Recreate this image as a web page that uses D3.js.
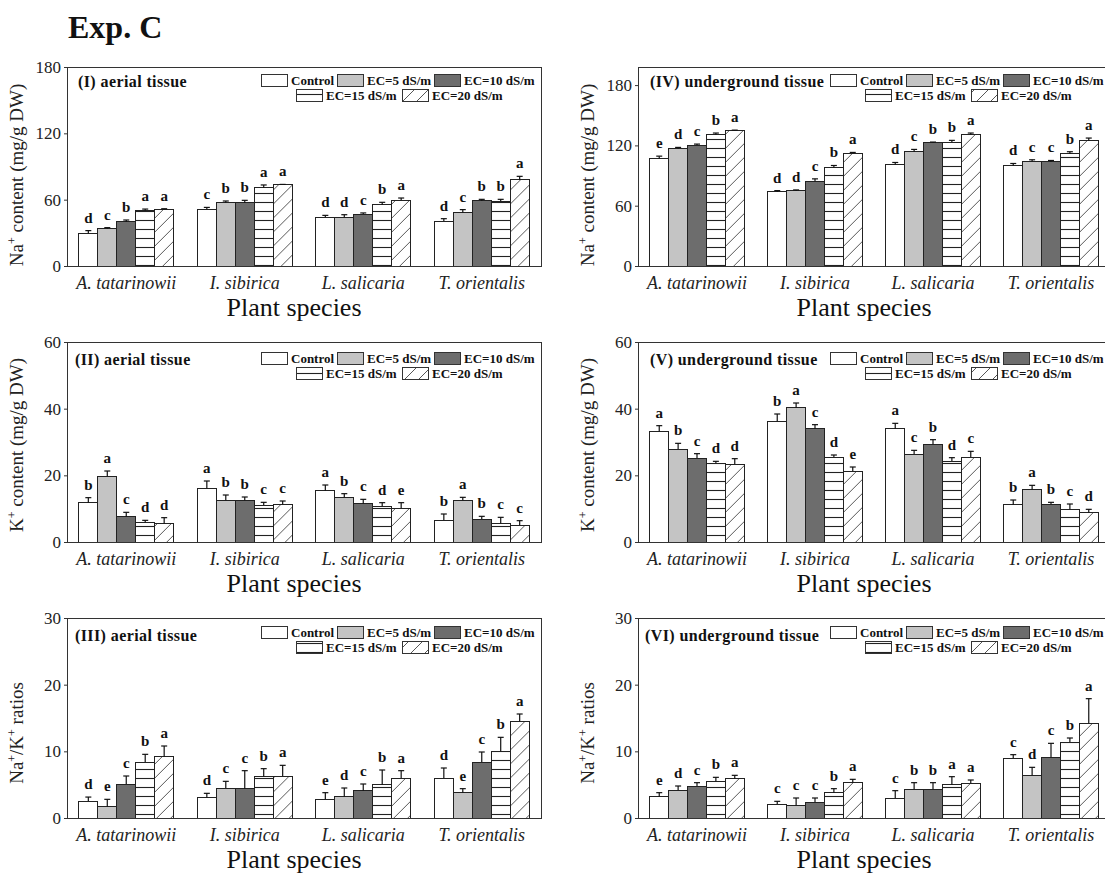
<!DOCTYPE html>
<html><head><meta charset="utf-8">
<script src="https://cdn.jsdelivr.net/npm/d3@7/dist/d3.min.js"></script>
<style>
html,body{margin:0;padding:0;background:#fff;}
svg{display:block;font-family:"Liberation Serif","Times New Roman",serif;}
</style></head>
<body>
<svg id="chart" width="1105" height="875" font-family="Liberation Serif, Times New Roman, serif"></svg>
<script>
// ---------- DATA ----------
const species = ["A. tatarinowii", "I. sibirica", "L. salicaria", "T. orientalis"];
const treatments = ["Control", "EC=5 dS/m", "EC=10 dS/m", "EC=15 dS/m", "EC=20 dS/m"];

// (I) Na+ aerial tissue
const naAerialMean = [[29.5,33.8,40.1,50.3,51.3],[51.5,57.3,57.3,70.8,73.3],[44.3,44.0,47.0,55.2,59.4],[40.7,48.5,58.8,58.5,78.1]];
const naAerialSD   = [[2.5,0.9,1.5,1.2,0.5],[1.5,1.5,2.1,2.5,0.5],[1.5,2.4,1.0,2.4,2.1],[2.1,2.5,1.5,1.8,3.0]];
const naAerialLetters = [["d","c","b","a","a"],["c","b","b","a","a"],["d","d","c","b","a"],["d","c","b","b","a"]];

// (II) K+ aerial tissue
const kAerialMean = [[11.8,19.7,7.6,5.9,5.5],[16.1,12.5,12.5,11.1,11.3],[15.4,13.4,11.5,10.7,10.2],[6.6,12.5,6.9,5.6,5.1]];
const kAerialSD   = [[1.5,1.6,1.3,0.6,1.8],[2.2,1.6,1.0,0.8,1.0],[1.7,1.1,1.3,1.1,1.6],[1.8,0.9,0.8,1.8,1.3]];
const kAerialLetters = [["b","a","c","d","d"],["a","b","b","c","c"],["a","b","c","d","e"],["b","a","b","c","c"]];

// (III) Na+/K+ aerial tissue
const ratioAerialMean = [[2.54,1.7,5.1,8.4,9.2],[3.1,4.5,4.4,6.2,6.3],[2.8,3.2,4.1,5.0,6.0],[6.0,3.8,8.4,10.0,14.5]];
const ratioAerialSD   = [[0.6,1.1,1.2,1.15,1.6],[0.6,1.0,2.7,1.2,1.6],[1.0,1.3,1.0,2.2,1.1],[1.5,0.6,1.5,2.1,1.1]];
const ratioAerialLetters = [["d","e","c","b","a"],["d","c","c","b","a"],["e","d","c","b","a"],["d","e","c","b","a"]];

// (IV) Na+ underground tissue
const naUnderMean = [[106.7,117.0,120.3,130.7,134.7],[73.7,74.7,84.3,98.3,112.3],[101.0,113.7,122.7,123.3,130.7],[99.7,104.3,103.7,111.7,124.7]];
const naUnderSD   = [[2.6,1.0,1.0,1.6,0.5],[1.3,1.0,2.4,1.7,0.7],[2.0,2.3,0.6,1.7,1.6],[2.3,1.4,1.3,2.0,2.6]];
const naUnderLetters = [["e","d","c","b","a"],["d","d","c","b","a"],["d","c","b","b","a"],["d","c","c","b","a"]];

// (V) K+ underground tissue
const kUnderMean = [[33.2,27.9,25.2,23.7,23.4],[36.2,40.3,34.0,25.5,21.3],[34.0,26.4,29.3,24.3,25.5],[11.2,15.7,11.4,9.8,8.8]];
const kUnderSD   = [[1.7,1.7,1.3,0.5,1.6],[2.2,1.4,1.2,0.6,1.2],[1.6,1.1,1.4,1.0,1.7],[1.4,1.3,0.5,1.6,1.0]];
const kUnderLetters = [["a","b","c","d","d"],["b","a","c","d","e"],["a","c","b","d","c"],["b","a","b","c","d"]];

// (VI) Na+/K+ underground tissue
const ratioUnderMean = [[3.2,4.2,4.8,5.5,5.9],[2.1,1.9,2.4,3.8,5.3],[3.0,4.3,4.3,5.0,5.2],[9.0,6.4,9.1,11.4,14.2]];
const ratioUnderSD   = [[0.6,0.6,0.5,0.6,0.5],[0.4,1.1,0.6,0.6,0.5],[1.1,1.0,1.0,1.2,0.5],[0.5,1.2,2.1,0.6,3.7]];
const ratioUnderLetters = [["e","d","c","b","a"],["c","c","c","b","a"],["c","b","b","a","a"],["c","d","c","b","a"]];

const naTicks = [0,60,120,180];
const kTicks = [0,20,40,60];
const ratioTicks = [0,10,20,30];

// ---------- LAYOUT ----------
const FONT = "Liberation Serif, Times New Roman, serif";
const svg = d3.select("#chart");
const defs = svg.append("defs");

const hh = defs.append("pattern").attr("id","hatchH").attr("patternUnits","userSpaceOnUse")
  .attr("width",10).attr("height",9);
hh.append("rect").attr("width",10).attr("height",9).attr("fill","#fff");
hh.append("line").attr("x1",0).attr("x2",10).attr("y1",4.5).attr("y2",4.5).attr("stroke","#222").attr("stroke-width",1.1);

const hd = defs.append("pattern").attr("id","hatchD").attr("patternUnits","userSpaceOnUse")
  .attr("width",14).attr("height",14);
hd.append("rect").attr("width",14).attr("height",14).attr("fill","#fff");
hd.append("path").attr("d","M0,14 L14,0 M-2,2 L2,-2 M12,16 L16,12").attr("stroke","#444").attr("stroke-width",0.9);

const fills = ["#ffffff","#c4c4c4","#6d6d6d","url(#hatchH)","url(#hatchD)"];

svg.append("text").attr("x",68).attr("y",38).attr("font-size",32).attr("font-weight","bold")
  .attr("font-family",FONT).attr("fill","#111").text("Exp. C");

const panels = [
  {label:"(I) aerial tissue", mean:naAerialMean, sd:naAerialSD, letters:naAerialLetters, ticks:naTicks, max:180,
   left:67, right:541, top:67, bottom:266, title:"na", titleY:175, labelX:78, labelDy:20, legDy:7},
  {label:"(II) aerial tissue", mean:kAerialMean, sd:kAerialSD, letters:kAerialLetters, ticks:kTicks, max:60,
   left:67, right:541, top:342, bottom:542, title:"k", titleY:445, labelX:75, labelDy:23, legDy:10},
  {label:"(III) aerial tissue", mean:ratioAerialMean, sd:ratioAerialSD, letters:ratioAerialLetters, ticks:ratioTicks, max:30,
   left:67, right:541, top:618, bottom:818, title:"ratio", titleY:733, labelX:75, labelDy:23, legDy:8},
  {label:"(IV) underground tissue", mean:naUnderMean, sd:naUnderSD, letters:naUnderLetters, ticks:naTicks, max:198,
   left:638, right:1110, top:67, bottom:266, title:"na", titleY:175, labelX:650, labelDy:20, legDy:7},
  {label:"(V) underground tissue", mean:kUnderMean, sd:kUnderSD, letters:kUnderLetters, ticks:kTicks, max:60,
   left:638, right:1110, top:342, bottom:542, title:"k", titleY:445, labelX:650, labelDy:23, legDy:10},
  {label:"(VI) underground tissue", mean:ratioUnderMean, sd:ratioUnderSD, letters:ratioUnderLetters, ticks:ratioTicks, max:30,
   left:638, right:1110, top:618, bottom:818, title:"ratio", titleY:733, labelX:645, labelDy:23, legDy:8}
];

panels.forEach(p => {
  const g = svg.append("g").attr("font-family",FONT);
  const y = d3.scaleLinear().domain([0,p.max]).range([p.bottom,p.top]);
  const x0 = d3.scaleBand().domain(species).range([p.left,p.right]).paddingInner(0.2).paddingOuter(0.1);
  const x1 = d3.scaleBand().domain(treatments).range([0,x0.bandwidth()]);

  // bars
  species.forEach((sp,i) => {
    const gg = g.append("g").attr("transform",`translate(${x0(sp)},0)`);
    const rows = treatments.map((t,j)=>({t, j, m:p.mean[i][j], s:p.sd[i][j], l:p.letters[i][j]}));
    gg.selectAll("rect.bar").data(rows).join("rect").attr("class","bar")
      .attr("x",d=>x1(d.t)).attr("width",x1.bandwidth())
      .attr("y",d=>y(d.m)).attr("height",d=>y(0)-y(d.m))
      .attr("fill",d=>fills[d.j]).attr("stroke","#222").attr("stroke-width",1)
      .attr("shape-rendering","crispEdges");
    gg.selectAll("line.err").data(rows).join("line").attr("class","err")
      .attr("x1",d=>x1(d.t)+x1.bandwidth()/2).attr("x2",d=>x1(d.t)+x1.bandwidth()/2)
      .attr("y1",d=>y(d.m)).attr("y2",d=>y(d.m+d.s)).attr("stroke","#111").attr("stroke-width",1.2);
    gg.selectAll("line.cap").data(rows).join("line").attr("class","cap")
      .attr("x1",d=>x1(d.t)+x1.bandwidth()/2-3).attr("x2",d=>x1(d.t)+x1.bandwidth()/2+3)
      .attr("y1",d=>y(d.m+d.s)).attr("y2",d=>y(d.m+d.s)).attr("stroke","#111").attr("stroke-width",1.2);
    gg.selectAll("text.let").data(rows).join("text").attr("class","let")
      .attr("x",d=>x1(d.t)+x1.bandwidth()/2).attr("y",d=>y(d.m+d.s)-8)
      .attr("text-anchor","middle").attr("font-size",15).attr("font-weight","bold").attr("fill","#111")
      .text(d=>d.l);
  });

  // frame
  g.append("rect").attr("x",p.left).attr("y",p.top).attr("width",p.right-p.left).attr("height",p.bottom-p.top)
    .attr("fill","none").attr("stroke","#333").attr("stroke-width",1).attr("shape-rendering","crispEdges");

  // y axis
  const ax = d3.axisLeft(y).tickValues(p.ticks).tickSize(3).tickPadding(3).tickFormat(d3.format("d"));
  const ag = g.append("g").attr("transform",`translate(${p.left},0)`).call(ax).attr("font-family",FONT);
  ag.select(".domain").remove();
  ag.selectAll("line").attr("stroke","#333");
  ag.selectAll("text").attr("font-size",17).attr("fill","#222");

  // x axis labels
  const xa = d3.axisBottom(x0).tickSize(0).tickPadding(6);
  const xg = g.append("g").attr("transform",`translate(0,${p.bottom})`).call(xa).attr("font-family",FONT);
  xg.select(".domain").remove();
  xg.selectAll("text").attr("font-size",18).attr("font-style","italic").attr("fill","#222")
    .attr("dy","0.95em");

  g.append("text").attr("x",(p.left+p.right)/2-10).attr("y",p.bottom+50).attr("text-anchor","middle")
    .attr("font-size",26).attr("fill","#111").text("Plant species");

  // y title
  const tt = g.append("text").attr("transform",`translate(${p.left-44},${p.titleY}) rotate(-90)`)
    .attr("text-anchor","middle").attr("font-size",19).attr("fill","#222");
  if (p.title === "na") {
    tt.append("tspan").text("Na");
    tt.append("tspan").attr("dy",-7).attr("font-size",12).text("+");
    tt.append("tspan").attr("dy",7).text(" content (mg/g DW)");
  } else if (p.title === "k") {
    tt.append("tspan").text("K");
    tt.append("tspan").attr("dy",-7).attr("font-size",12).text("+");
    tt.append("tspan").attr("dy",7).text(" content (mg/g DW)");
  } else {
    tt.append("tspan").text("Na");
    tt.append("tspan").attr("dy",-7).attr("font-size",12).text("+");
    tt.append("tspan").attr("dy",7).text("/K");
    tt.append("tspan").attr("dy",-7).attr("font-size",12).text("+");
    tt.append("tspan").attr("dy",7).text(" ratios");
  }

  // panel label
  g.append("text").attr("x",p.labelX).attr("y",p.top+p.labelDy).attr("font-size",16).attr("font-weight","bold")
    .attr("fill","#111").attr("letter-spacing",0.4).text(p.label);

  // legend
  const legPos = [[p.right-280,0],[p.right-204,0],[p.right-107,0],[p.right-245,1],[p.right-139,1]];
  treatments.forEach((t,j) => {
    const lx = legPos[j][0], ly = p.top + p.legDy + legPos[j][1]*15;
    g.append("rect").attr("x",lx).attr("y",ly).attr("width",26).attr("height",12)
      .attr("fill",fills[j]).attr("stroke","#333").attr("stroke-width",1).attr("shape-rendering","crispEdges");
    g.append("text").attr("x",lx+30).attr("y",ly+11).attr("font-size",13).attr("font-weight","bold")
      .attr("fill","#111").text(t);
  });
});
</script>
</body></html>
